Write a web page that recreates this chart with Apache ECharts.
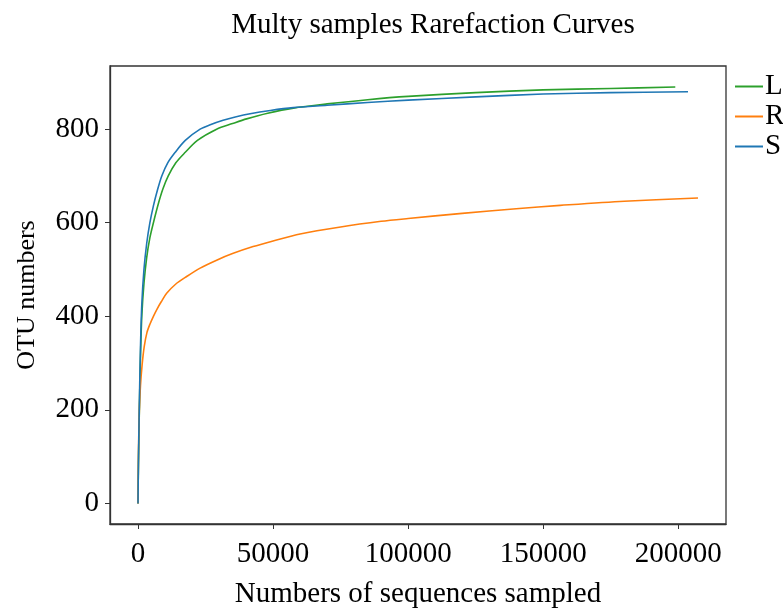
<!DOCTYPE html>
<html>
<head>
<meta charset="utf-8">
<script src="https://cdn.jsdelivr.net/npm/echarts@6/dist/echarts.min.js"></script>
<style>html,body{margin:0;padding:0;background:#fff;}#c{width:783px;height:611px;}</style>
</head>
<body>
<div id="c"></div>
<script>
const seriesNames = ['L', 'R', 'S'];
const xTicks = [0, 50000, 100000, 150000, 200000];
const yTicks = [0, 200, 400, 600, 800];

const lX = [0, 150, 500, 900, 1400, 2200, 3200, 4400, 5700, 7500, 9200, 11200, 14000, 17400, 22000, 29100, 35000, 40200, 48000, 57500, 70000, 85000, 100000, 125000, 150000, 175000, 198900];
const lY = [0, 80, 200, 310, 400, 470, 525, 568, 600, 640, 672, 700, 728, 750, 776, 800, 812, 822, 834, 845, 854, 863, 870, 878, 884, 887, 890];

const rX = [0, 100, 250, 500, 900, 1500, 2300, 3300, 4400, 5700, 7000, 8600, 10600, 14000, 18000, 23000, 29100, 35000, 42600, 50000, 60000, 75000, 90000, 100000, 120000, 140000, 156300, 180000, 207300];
const rY = [0, 70, 135, 200, 250, 295, 335, 365, 383, 400, 415, 431, 449, 469, 485, 503, 520, 534, 549, 561, 576, 591, 603, 609, 620, 630, 637, 646, 653];

const sX = [0, 150, 500, 900, 1400, 2200, 3200, 4400, 5700, 7200, 8800, 11000, 13700, 17500, 23000, 27000, 31500, 36000, 41500, 49000, 57500, 70000, 85000, 100000, 125000, 150000, 175000, 203600];
const sY = [0, 85, 215, 330, 425, 500, 555, 600, 636, 670, 700, 728, 750, 776, 800, 810, 819, 826, 833, 840, 846, 851, 857, 862, 869, 875, 878, 880];

const colors = ['#2ca02c', '#ff7f0e', '#1f77b4'];
const xs = [lX, rX, sX];
const ys = [lY, rY, sY];
const font = 'Liberation Serif';

const chart = echarts.init(document.getElementById('c'), null, {renderer: 'canvas'});
chart.setOption({
  animation: false,
  backgroundColor: '#fff',
  title: {
    text: 'Multy samples Rarefaction Curves',
    left: 428, top: 6, textAlign: 'center',
    textStyle: {fontFamily: font, fontSize: 29, fontWeight: 'normal', color: '#000'}
  },
  legend: {
    orient: 'vertical', left: 730, top: 67,
    icon: 'rect', itemWidth: 28, itemHeight: 2, itemGap: 1,
    textStyle: {fontFamily: font, fontSize: 29, lineHeight: 25, color: '#000', padding: [0, 0, 0, -3]},
    data: seriesNames
  },
  grid: {left: 110, right: 57, top: 66, bottom: 87, containLabel: false, outerBoundsMode: 'none',
         show: true, borderColor: '#333', borderWidth: 1.3, backgroundColor: '#fff'},
  xAxis: {
    type: 'value', min: -10370, max: 217670,
    name: 'Numbers of sequences sampled', nameLocation: 'middle', nameGap: 56,
    nameTextStyle: {fontFamily: font, fontSize: 29, color: '#000'},
    axisLine: {show: true, onZero: false, lineStyle: {color: '#333', width: 1.3}},
    axisTick: {show: true, length: 5, lineStyle: {color: '#333'}, customValues: xTicks},
    axisLabel: {fontFamily: font, fontSize: 29, color: '#000', margin: 16, customValues: xTicks, formatter: v => String(v)},
    splitLine: {show: false}
  },
  yAxis: {
    type: 'value', min: -44, max: 935,
    name: 'OTU numbers', nameLocation: 'middle', nameGap: 70,
    nameTextStyle: {fontFamily: font, fontSize: 26, color: '#000'},
    axisLine: {show: true, onZero: false, lineStyle: {color: '#333', width: 1.3}},
    axisTick: {show: true, length: 5, lineStyle: {color: '#333'}, customValues: yTicks},
    axisLabel: {fontFamily: font, fontSize: 29, color: '#000', margin: 11, customValues: yTicks, formatter: v => String(v)},
    splitLine: {show: false}
  },
  series: seriesNames.map((n, i) => ({
    name: n, type: 'line', showSymbol: false, symbol: 'none',
    smooth: 0.3,
    color: colors[i],
    lineStyle: {width: 1.6, color: colors[i]},
    data: xs[i].map((x, j) => [x, ys[i][j]])
  }))
});
</script>
</body>
</html>
